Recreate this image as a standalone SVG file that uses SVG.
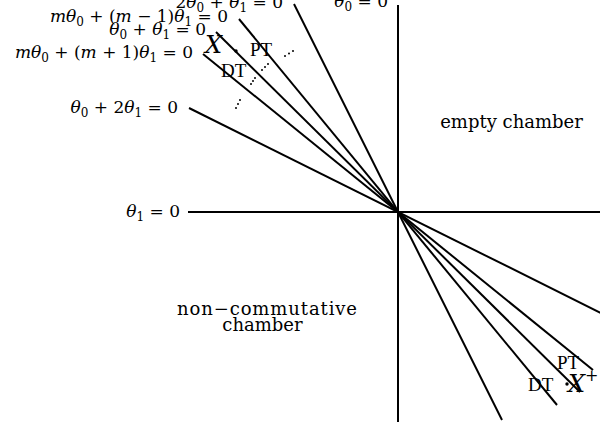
<svg xmlns="http://www.w3.org/2000/svg" width="600" height="427" viewBox="0 0 600 427">
<style>
.ln{stroke:#000;stroke-width:2;fill:none}
text{font-family:"DejaVu Serif","Liberation Serif",serif;fill:#000}
.lab{font-size:17px}
.big{font-size:18px}
.i{font-style:italic}
.sub{font-size:12px}
.pt{font-size:19px;font-family:"Liberation Serif","DejaVu Serif",serif}
.dot{fill:#000}
</style>
<rect width="600" height="427" fill="#fff"/>
<g id="connectors">
<line class="ln" x1="398" y1="5" x2="398" y2="422"/>
<line class="ln" x1="188" y1="212" x2="600" y2="212"/>
<line class="ln" x1="294" y1="4" x2="502" y2="420"/>
<line class="ln" x1="239" y1="19" x2="557" y2="405"/>
<line class="ln" x1="216" y1="32" x2="580" y2="392"/>
<line class="ln" x1="203" y1="54" x2="593" y2="370"/>
<line class="ln" x1="189" y1="108" x2="607" y2="316"/>
</g>
<g id="label-2t0t1"><text class="lab" x="283" y="8" text-anchor="end">2<tspan class="i">θ</tspan><tspan class="sub" dy="4">0</tspan><tspan dy="-4"> + </tspan><tspan class="i">θ</tspan><tspan class="sub" dy="4">1</tspan><tspan dy="-4"> = 0</tspan></text></g>
<g id="label-t0"><text class="lab" x="388" y="7" text-anchor="end"><tspan class="i">θ</tspan><tspan class="sub" dy="4">0</tspan><tspan dy="-4"> = 0</tspan></text></g>
<g id="label-mm1"><text class="lab" x="228" y="22" text-anchor="end"><tspan class="i">mθ</tspan><tspan class="sub" dy="4">0</tspan><tspan dy="-4"> + (</tspan><tspan class="i">m</tspan> − 1)<tspan class="i">θ</tspan><tspan class="sub" dy="4">1</tspan><tspan dy="-4"> = 0</tspan></text></g>
<g id="label-t0t1"><text class="lab" x="206" y="35" text-anchor="end"><tspan class="i">θ</tspan><tspan class="sub" dy="4">0</tspan><tspan dy="-4"> + </tspan><tspan class="i">θ</tspan><tspan class="sub" dy="4">1</tspan><tspan dy="-4"> = 0</tspan></text></g>
<g id="label-mp1"><text class="lab" x="193" y="58" text-anchor="end"><tspan class="i">mθ</tspan><tspan class="sub" dy="4">0</tspan><tspan dy="-4"> + (</tspan><tspan class="i">m</tspan> + 1)<tspan class="i">θ</tspan><tspan class="sub" dy="4">1</tspan><tspan dy="-4"> = 0</tspan></text></g>
<g id="label-t02t1"><text class="lab" x="178" y="113" text-anchor="end"><tspan class="i">θ</tspan><tspan class="sub" dy="4">0</tspan><tspan dy="-4"> + 2</tspan><tspan class="i">θ</tspan><tspan class="sub" dy="4">1</tspan><tspan dy="-4"> = 0</tspan></text></g>
<g id="label-t1"><text class="lab" x="180" y="217" text-anchor="end"><tspan class="i">θ</tspan><tspan class="sub" dy="4">1</tspan><tspan dy="-4"> = 0</tspan></text></g>
<g id="empty-chamber"><text class="big" x="511.5" y="128" text-anchor="middle">empty chamber</text></g>
<g id="noncomm-chamber">
<text class="big" x="177" y="315" textLength="180" lengthAdjust="spacing">non−commutative</text>
<text class="big" x="262.5" y="331" text-anchor="middle">chamber</text>
</g>
<g id="point-X">
<text x="205" y="53" font-size="24" font-style="italic" font-family="Liberation Serif, serif">X</text>
<circle class="dot" cx="236" cy="51" r="1.7"/>
<text class="pt" x="250" y="56">PT</text>
<text class="pt" x="221" y="77">DT</text>
<g class="dot">
<circle cx="285" cy="56" r="1"/><circle cx="289" cy="53.5" r="1"/><circle cx="293" cy="51" r="1"/>
<circle cx="262" cy="70" r="1"/><circle cx="265" cy="67" r="1"/><circle cx="268" cy="64" r="1"/>
<circle cx="251" cy="84" r="1"/><circle cx="253" cy="81" r="1"/><circle cx="255" cy="78" r="1"/>
<circle cx="236" cy="108" r="1"/><circle cx="238" cy="104" r="1"/><circle cx="240" cy="100" r="1"/>
</g>
</g>
<g id="point-Xplus">
<text class="pt" x="557" y="369">PT</text>
<text class="pt" x="528" y="391">DT</text>
<circle class="dot" cx="567" cy="384" r="1.7"/>
<text x="568" y="392" font-size="24" font-family="Liberation Serif, serif"><tspan font-style="italic">X</tspan><tspan font-size="16" dy="-11">+</tspan></text>
</g>
</svg>
